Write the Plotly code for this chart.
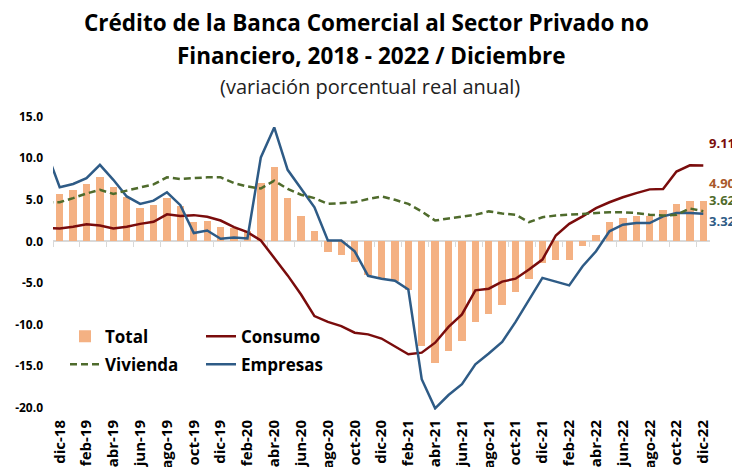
import plotly.graph_objects as go

# ---------------- data (nov-18 is only the clipped lead-in point) ----------------
months = ["nov-18", "dic-18", "ene-19", "feb-19", "mar-19", "abr-19", "may-19", "jun-19",
          "jul-19", "ago-19", "sep-19", "oct-19", "nov-19", "dic-19", "ene-20", "feb-20",
          "mar-20", "abr-20", "may-20", "jun-20", "jul-20", "ago-20", "sep-20", "oct-20",
          "nov-20", "dic-20", "ene-21", "feb-21", "mar-21", "abr-21", "may-21", "jun-21",
          "jul-21", "ago-21", "sep-21", "oct-21", "nov-21", "dic-21", "ene-22", "feb-22",
          "mar-22", "abr-22", "may-22", "jun-22", "jul-22", "ago-22", "sep-22", "oct-22",
          "nov-22", "dic-22"]

tick_labels = ["dic-18", "feb-19", "abr-19", "jun-19", "ago-19", "oct-19", "dic-19",
               "feb-20", "abr-20", "jun-20", "ago-20", "oct-20", "dic-20", "feb-21",
               "abr-21", "jun-21", "ago-21", "oct-21", "dic-21", "feb-22", "abr-22",
               "jun-22", "ago-22", "oct-22", "dic-22"]

total = [None, 5.7, 6.2, 6.85, 7.7, 6.5, 5.3, 4.0, 4.4, 5.2, 4.3,
         2.3, 2.4, 1.7, 1.6, 1.2, 7.0, 8.9, 5.2, 3.0, 1.2,
         -1.3, -1.65, -2.5, -4.0, -4.5, -4.8, -5.85, -12.6, -14.7, -13.2,
         -12.0, -9.7, -8.7, -7.7, -6.1, -4.5, -2.6, -2.3, -2.3, -0.6,
         0.8, 2.3, 2.85, 3.1, 3.0, 3.8, 4.5, 4.85, 4.90]

consumo = [1.6, 1.55, 1.75, 2.05, 1.9, 1.55, 1.75, 2.1, 2.35, 3.25, 3.05,
           3.15, 2.95, 2.5, 1.7, 1.1, 0.1, -2.0, -4.1, -6.4, -9.0,
           -9.7, -10.2, -11.0, -11.2, -11.7, -12.7, -13.6, -13.4, -12.2, -10.3,
           -8.8, -5.9, -5.7, -4.85, -4.5, -3.4, -2.2, 0.7, 2.1, 3.0,
           4.0, 4.7, 5.3, 5.8, 6.25, 6.3, 8.4, 9.15, 9.11]

vivienda = [4.7, 4.7, 5.2, 5.75, 6.2, 5.7, 6.1, 6.5, 6.85, 7.7, 7.5,
            7.6, 7.7, 7.7, 7.0, 6.6, 6.35, 7.3, 6.3, 5.6, 5.2,
            4.5, 4.6, 4.7, 5.1, 5.4, 5.0, 4.5, 3.6, 2.5, 2.75,
            2.95, 3.2, 3.6, 3.35, 3.2, 2.3, 2.9, 3.1, 3.2, 3.3,
            3.4, 3.5, 3.5, 3.4, 3.2, 3.1, 3.2, 3.95, 3.62]

empresas = [10.9, 6.5, 6.9, 7.6, 9.2, 7.4, 5.4, 4.5, 4.9, 5.9, 4.35,
            1.0, 1.3, 0.3, 0.45, 0.35, 10.1, 13.7, 8.6, 6.4, 4.1,
            0.1, 0.1, -1.2, -4.15, -4.5, -4.75, -5.8, -16.6, -20.1, -18.5,
            -17.2, -14.8, -13.5, -12.1, -9.7, -7.0, -4.4, -4.85, -5.3, -3.0,
            -1.2, 1.2, 2.0, 2.2, 2.2, 3.0, 3.4, 3.4, 3.32]

y_ticks = [15.0, 10.0, 5.0, 0.0, -5.0, -10.0, -15.0, -20.0]

# ---------------- styling ----------------
C_TOTAL = "#f4b183"
C_CONS = "#7a0c0c"
C_VIV = "#4f6b2c"
C_EMP = "#2e5b86"
C_TOTAL_LBL = "#a9582a"
FONT = "Open Sans"

x = list(range(-1, len(months) - 1))          # dic-18 -> 0
label_pos = [months.index(t) - 1 for t in tick_labels]
boundaries = [p - 0.5 for p in label_pos]

# page has an 8px body margin: figure is drawn 8px right/down of the window origin
OFF = 8
W, H = 740 - OFF, 467 - OFF
PL, PR, PT, PB = 53, 710, 115, 410.5          # plot area in window pixels
M_L, M_R, M_T, M_B = PL - OFF, W - (PR - OFF), PT - OFF, H - (PB - OFF)
Y_RANGE = [-20.3, 15.2]
plot_h = PB - PT
plot_w = PR - PL


def py(pix):
    return (PB - pix) / plot_h


def px(pix):
    return (pix - PL) / plot_w


fig = go.Figure()
fig.add_trace(go.Bar(x=x, y=total, name="Total", marker=dict(color=C_TOTAL, line=dict(width=0)),
                     width=0.55, legend="legend", legendgroup="t"))
fig.add_trace(go.Scatter(x=x, y=consumo, name="Consumo", mode="lines",
                         line=dict(color=C_CONS, width=2.5), legend="legend2", legendgroup="c"))
fig.add_trace(go.Scatter(x=x, y=vivienda, name="Vivienda", mode="lines", xaxis="x2",
                         line=dict(color=C_VIV, width=2.5, dash="7px,4px"), legend="legend",
                         legendgroup="v"))
fig.add_trace(go.Scatter(x=x, y=empresas, name="Empresas", mode="lines",
                         line=dict(color=C_EMP, width=2.5), legend="legend2", legendgroup="e"))

zero_frac = (0 - Y_RANGE[0]) / (Y_RANGE[1] - Y_RANGE[0])
LEG_FONT = dict(size=17, weight="bold", family=FONT)

fig.update_layout(
    width=W, height=H,
    margin=dict(l=M_L, r=M_R, t=M_T, b=M_B, autoexpand=False),
    paper_bgcolor="white", plot_bgcolor="white",
    font=dict(family=FONT, color="black"),
    bargap=0,
    xaxis=dict(range=[-0.5, 48.5], tickmode="array", tickvals=label_pos, ticktext=tick_labels,
               tickangle=-90, showgrid=False, zeroline=False, showline=False, ticks="",
               ticklen=0, tickfont=dict(size=15, weight="bold", family=FONT), automargin=False,
               ticklabelstandoff=6),
    xaxis2=dict(range=[-0.5, 48.5], overlaying="x", anchor="free", position=zero_frac,
                side="bottom", tickmode="array", tickvals=boundaries, showticklabels=False,
                showgrid=False, zeroline=False, showline=True, linecolor="#d9d9d9", linewidth=1.5,
                ticks="outside", ticklen=5, tickcolor="#d9d9d9", tickwidth=1.2,
                layer="below traces"),
    yaxis=dict(range=Y_RANGE, tickmode="array", tickvals=y_ticks,
               ticktext=[f"{v:.1f}" for v in y_ticks], showgrid=False, zeroline=False,
               showline=False, ticks="", ticklen=0,
               tickfont=dict(size=12, weight="bold", family=FONT),
               ticklabelstandoff=9, automargin=False),
    legend=dict(x=px(65), y=py(319), xanchor="left", yanchor="top", bgcolor="rgba(0,0,0,0)",
                font=LEG_FONT, tracegroupgap=3, itemwidth=30),
    legend2=dict(x=px(201), y=py(319), xanchor="left", yanchor="top", bgcolor="rgba(0,0,0,0)",
                 font=LEG_FONT, tracegroupgap=3, itemwidth=30),
    showlegend=True,
)

# titles
fig.add_annotation(text="Crédito de la Banca Comercial al Sector Privado no", xref="paper",
                   yref="paper", x=px(366), y=py(22), xanchor="center", yanchor="middle",
                   showarrow=False, font=dict(size=22.5, weight="bold", family=FONT))
fig.add_annotation(text="Financiero, 2018 - 2022 / Diciembre", xref="paper",
                   yref="paper", x=px(371), y=py(55), xanchor="center", yanchor="middle",
                   showarrow=False, font=dict(size=22.5, weight="bold", family=FONT))
fig.add_annotation(text="(variación porcentual real anual)", xref="paper",
                   yref="paper", x=px(370), y=py(86), xanchor="center", yanchor="middle",
                   showarrow=False, font=dict(size=20, family=FONT, color="#222"))

# end-of-series value labels
last = len(months) - 2
for series, color, shift in [(consumo, C_CONS, 23), (total, C_TOTAL_LBL, 18),
                             (vivienda, C_VIV, 11), (empresas, C_EMP, -7)]:
    fig.add_annotation(x=last, y=series[-1], xref="x", yref="y", text=f"{series[-1]:.2f}",
                       showarrow=False, xanchor="left", yanchor="middle", xshift=5, yshift=shift,
                       borderpad=0, font=dict(size=13, weight="bold", color=color, family=FONT))

fig.write_html("out.html")
